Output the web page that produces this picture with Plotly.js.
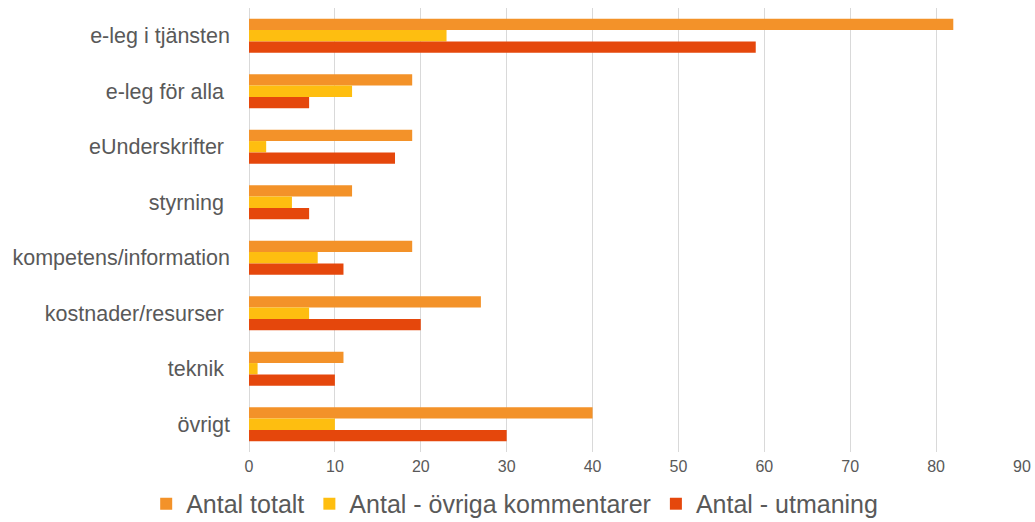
<!DOCTYPE html>
<html>
<head>
<meta charset="utf-8">
<script src="https://cdn.plot.ly/plotly-3.0.1.min.js"></script>
<style>
  body { margin: 0; background: #fff; }
  #plot { width: 1035px; height: 522px; }
</style>
</head>
<body>
<div id="plot"></div>
<script>
// Categories (top to bottom)
var categories = ["e-leg i tjänsten", "e-leg för alla\u00a0", "eUnderskrifter\u00a0", "styrning\u00a0",
                  "kompetens/information", "kostnader/resurser\u00a0", "teknik\u00a0", "övrigt"];

// Series values
var totalt = [82, 19, 19, 12, 19, 27, 11, 40];
var ovriga = [23, 12, 2, 5, 8, 7, 1, 10];
var utmaning = [59, 7, 17, 7, 11, 20, 10, 30];

var xTicks = [0, 10, 20, 30, 40, 50, 60, 70, 80, 90];

function barTrace(name, values, color) {
    return {
        y: categories,
        x: values,
        name: name,
        type: 'bar',
        orientation: 'h',
        marker: { color: color },
        hoverinfo: 'x+name'
    };
}

var data = [
    barTrace('Antal totalt', totalt, '#F39229'),
    barTrace('Antal - övriga kommentarer', ovriga, '#FEBE10'),
    barTrace('Antal - utmaning', utmaning, '#E5470C')
];

var layout = {
    width: 1035,
    height: 522,
    margin: { l: 249, r: 13, t: 8, b: 70, autoexpand: false },
    paper_bgcolor: '#ffffff',
    plot_bgcolor: '#ffffff',
    font: { family: 'Liberation Sans, Arial, sans-serif', color: '#595959' },
    barmode: 'group',
    bargap: 0.385,
    bargroupgap: 0,
    showlegend: true,
    legend: {
        orientation: 'h',
        x: -0.133,
        xanchor: 'left',
        y: -0.117,
        yanchor: 'middle',
        font: { size: 25, color: '#595959' },
        traceorder: 'normal',
        itemwidth: 30
    },
    xaxis: {
        range: [0, 90],
        tickvals: xTicks,
        showgrid: true,
        gridcolor: '#d9d9d9',
        gridwidth: 1,
        zeroline: true,
        zerolinecolor: '#d9d9d9',
        showline: false,
        ticks: '',
        ticklabelstandoff: 3,
        tickfont: { size: 16, color: '#595959' }
    },
    yaxis: {
        autorange: 'reversed',
        showgrid: false,
        zeroline: false,
        showline: false,
        ticks: '',
        ticklabelstandoff: 18,
        tickfont: { size: 21.5, color: '#595959' }
    }
};

Plotly.newPlot('plot', data, layout, { displayModeBar: false, staticPlot: true });
</script>
</body>
</html>
